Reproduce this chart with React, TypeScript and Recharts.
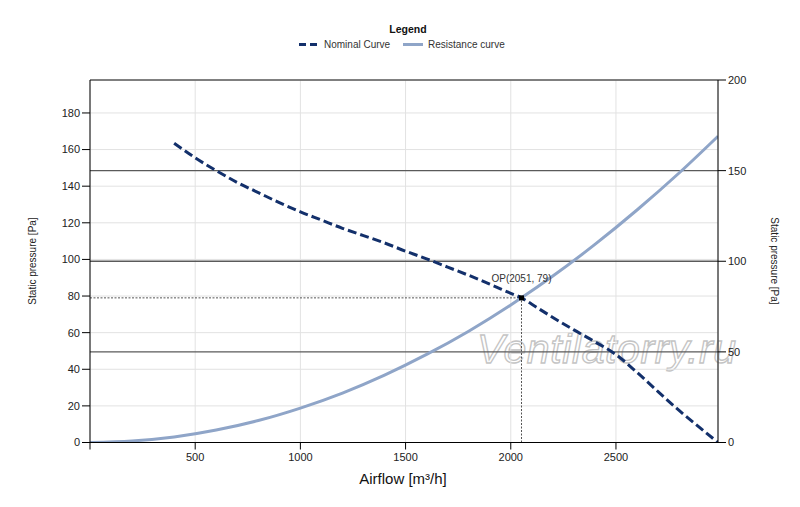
import React from "react";
import {
  ComposedChart,
  Line,
  XAxis,
  YAxis,
  CartesianGrid,
  ReferenceLine,
  ReferenceDot,
} from "recharts";

const airflowNominal = [400, 500, 600, 700, 800, 900, 1000, 1100, 1200, 1300, 1400, 1500, 1600, 1700, 1800, 1900, 2000, 2051, 2100, 2200, 2300, 2400, 2500, 2600, 2700, 2800, 2900, 2985];
const pressureNominal = [163.5, 155.5, 148.5, 142, 136.5, 131, 126, 121.5, 117, 113, 109, 104.5, 100.3, 95.8, 91.3, 86.5, 81.5, 79, 75.5, 68.3, 61.5, 55, 48, 38.3, 27.8, 17.5, 8, 0];

const airflowResistance = [0, 200, 400, 600, 800, 1000, 1200, 1400, 1600, 1800, 2000, 2051, 2200, 2400, 2600, 2800, 2985];
const pressureResistance = [0, 0.8, 3, 6.8, 12, 18.8, 27, 36.8, 48.1, 60.8, 75.1, 79, 90.9, 108.2, 127, 147.2, 167.3];

const xTicks = [0, 500, 1000, 1500, 2000, 2500];
const leftTicks = [0, 20, 40, 60, 80, 100, 120, 140, 160, 180];
const rightTicks = [0, 50, 100, 150, 200];
const darkLines = [50, 100, 150, 200];
const opAirflow = 2051;
const opPressure = 79;
const opLabel = "OP(2051, 79)";

const nominalData = airflowNominal.map((x, i) => ({ x, y: pressureNominal[i] }));
const resistanceData = airflowResistance.map((x, i) => ({ x, y: pressureResistance[i] }));

const FONT = "'Liberation Sans', Arial, sans-serif";
const NAVY = "#13306b";
const STEEL = "#8fa5c8";

export default function App() {
  const tickStyle = { fontSize: 11, fill: "#222", fontFamily: FONT };
  return (
    <div style={{ position: "absolute", left: 0, top: 0, width: 800, height: 507, background: "#fff", fontFamily: FONT }}>
      <svg
        width={800}
        height={507}
        style={{ position: "absolute", left: 0, top: 0, pointerEvents: "none" }}
      >
        <text x={477} y={363} fontSize={41} letterSpacing={0.6} fontStyle="italic" fontFamily={FONT} fill="none" stroke="#c4c4c4" strokeWidth={1.3}>
          Ventilatorry.ru
        </text>
      </svg>
      <div style={{ position: "absolute", left: 0, top: 0 }}>
        <ComposedChart width={800} height={507} margin={{ top: 80, right: 0, bottom: 0, left: 0 }}>
          <XAxis
            xAxisId="x"
            dataKey="x"
            type="number"
            domain={[0, 2985]}
            ticks={xTicks}
            tickFormatter={(v: number) => (v === 0 ? "" : String(v))}
            height={64.5}
            tickSize={7}
            tickMargin={4}
            tick={tickStyle}
            stroke="#000"
            allowDataOverflow
          />
          <YAxis
            yAxisId="left"
            orientation="left"
            type="number"
            domain={[0, 198]}
            ticks={leftTicks}
            width={90}
            tickSize={8}
            tickMargin={2}
            tick={tickStyle}
            stroke="#000"
            allowDataOverflow
          />
          <YAxis
            yAxisId="right"
            orientation="right"
            type="number"
            domain={[0, 200]}
            ticks={rightTicks}
            width={82}
            tickSize={8}
            tickMargin={2}
            tick={tickStyle}
            stroke="#000"
            allowDataOverflow
          />
          <CartesianGrid xAxisId="x" yAxisId="left" stroke="#e2e2e2" strokeWidth={1} />
          {darkLines.map((v) => (
            <ReferenceLine key={v} xAxisId="x" yAxisId="right" y={v} stroke="#5a5a5a" strokeWidth={1.3} />
          ))}
          <ReferenceLine
            xAxisId="x"
            yAxisId="left"
            segment={[{ x: 0, y: opPressure }, { x: opAirflow, y: opPressure }]}
            stroke="#555"
            strokeDasharray="2 1.5"
            strokeWidth={1}
          />
          <ReferenceLine
            xAxisId="x"
            yAxisId="left"
            segment={[{ x: opAirflow, y: 0 }, { x: opAirflow, y: opPressure }]}
            stroke="#555"
            strokeDasharray="2 1.5"
            strokeWidth={1}
          />
          <Line
            xAxisId="x"
            yAxisId="left"
            data={resistanceData}
            dataKey="y"
            type="monotone"
            stroke={STEEL}
            strokeWidth={3}
            dot={false}
            isAnimationActive={false}
          />
          <Line
            xAxisId="x"
            yAxisId="left"
            data={nominalData}
            dataKey="y"
            type="monotone"
            stroke={NAVY}
            strokeWidth={3}
            strokeDasharray="9 4"
            dot={false}
            isAnimationActive={false}
          />
          <ReferenceDot
            xAxisId="x"
            yAxisId="left"
            x={opAirflow}
            y={opPressure}
            shape={(p: any) => <rect x={p.cx - 2.5} y={p.cy - 2.5} width={5} height={5} fill="#000" />}
            label={{ value: opLabel, position: "top", offset: 6, fontSize: 10, fill: "#333", fontFamily: FONT }}
          />
        </ComposedChart>
      </div>
      <svg
        width={800}
        height={507}
        style={{ position: "absolute", left: 0, top: 0, pointerEvents: "none" }}
      >
        <text x={408} y={33} textAnchor="middle" fontSize={10.5} fontWeight="bold" fontFamily={FONT} fill="#111">
          Legend
        </text>
        <line x1={299} y1={44.5} x2={319} y2={44.5} stroke={NAVY} strokeWidth={3} strokeDasharray="7 4" />
        <text x={324} y={48} fontSize={10} fontFamily={FONT} fill="#333">
          Nominal Curve
        </text>
        <line x1={403} y1={44.5} x2={423} y2={44.5} stroke={STEEL} strokeWidth={3} />
        <text x={428} y={48} fontSize={10} fontFamily={FONT} fill="#333">
          Resistance curve
        </text>
        <text x={403} y={484} textAnchor="middle" fontSize={15} fontFamily={FONT} fill="#111">
          Airflow [m³/h]
        </text>
        <text
          x={36}
          y={261}
          textAnchor="middle"
          fontSize={10}
          fontFamily={FONT}
          fill="#222"
          transform="rotate(-90 36 261)"
        >
          Static pressure [Pa]
        </text>
        <text
          x={771}
          y={261}
          textAnchor="middle"
          fontSize={10}
          fontFamily={FONT}
          fill="#222"
          transform="rotate(90 771 261)"
        >
          Static pressure [Pa]
        </text>
      </svg>
    </div>
  );
}
